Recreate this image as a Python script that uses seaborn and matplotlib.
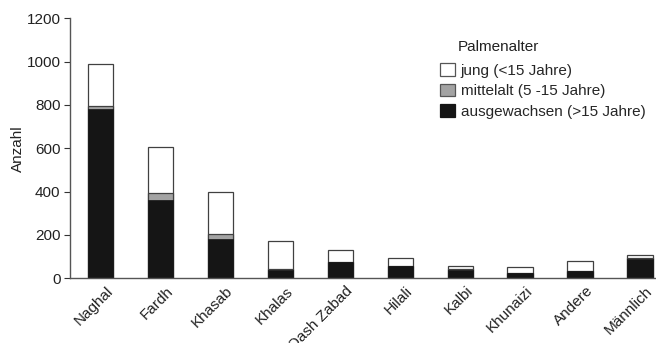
import matplotlib
matplotlib.use("Agg")
import matplotlib.pyplot as plt
import seaborn as sns
import pandas as pd
import numpy as np
from matplotlib.patches import Patch
from matplotlib.transforms import ScaledTranslation

categories = ["Naghal", "Fardh", "Khasab", "Khalas", "Qash Zabad", "Hilali",
              "Kalbi", "Khunaizi", "Andere", "Männlich"]
adult = [780, 360, 180, 38, 77, 55, 40, 25, 33, 90]
middle = [15, 35, 25, 4, 0, 2, 2, 0, 0, 2]
young = [195, 211, 195, 130, 54, 35, 17, 25, 45, 15]
legend_labels = ["jung (<15 Jahre)", "mittelalt (5 -15 Jahre)", "ausgewachsen (>15 Jahre)"]
yticks = [0, 200, 400, 600, 800, 1000, 1200]

sns.set_style("white")
plt.rcParams["font.family"] = ["Liberation Sans", "DejaVu Sans"]

df = pd.DataFrame({"cat": categories, "adult": adult, "middle": middle, "young": young})
df["mid_top"] = df["adult"] + df["middle"]
df["total"] = df["mid_top"] + df["young"]

fig = plt.figure(figsize=(6.56, 3.43), dpi=100)
ax = fig.add_axes([70.3 / 656, 1 - 278.3 / 343, (670 - 70.3) / 656, (278.3 - 18.3) / 343])

W = 0.42
edge = "#404040"
FS = 11
sns.barplot(data=df, x="cat", y="total", color="white", edgecolor=edge, linewidth=0.9,
            width=W, ax=ax, saturation=1)
sns.barplot(data=df, x="cat", y="mid_top", color="#a3a3a3", edgecolor=edge, linewidth=0.9,
            width=W, ax=ax, saturation=1)
sns.barplot(data=df, x="cat", y="adult", color="#151515", edgecolor="#151515", linewidth=0.5,
            width=W, ax=ax, saturation=1)

ax.set_xlim(-0.5, 9.5)
ax.set_ylim(0, 1200)
ax.set_yticks(yticks)
ax.set_yticklabels([str(t) for t in yticks], fontsize=FS, color="#222")
ax.set_xlabel("")
ax.set_ylabel("Anzahl", fontsize=FS, color="#222", labelpad=1)
ax.set_xticks(range(len(categories)))
ax.set_xticklabels(categories, rotation=45, ha="right", va="top", rotation_mode="anchor",
                   fontsize=FS, color="#222")
ax.tick_params(axis="x", length=0, pad=4)
ax.tick_params(axis="y", length=4, width=0.8, color="#333", direction="out", left=True, pad=3)
off = ScaledTranslation(4 / 72, 0, fig.dpi_scale_trans)
for lbl in ax.get_xticklabels():
    lbl.set_transform(lbl.get_transform() + off)
for s in ["top", "right"]:
    ax.spines[s].set_visible(False)
for s in ["left", "bottom"]:
    ax.spines[s].set_color("#555")
    ax.spines[s].set_linewidth(1.0)
ax.patch.set_alpha(0)

handles = [Patch(facecolor="white", edgecolor="#555", linewidth=0.9),
           Patch(facecolor="#a3a3a3", edgecolor="#555", linewidth=0.9),
           Patch(facecolor="#151515", edgecolor="#151515", linewidth=0.9)]
fig.legend(handles, legend_labels, loc="upper left",
           bbox_to_anchor=(440 / 656, 1 - 63.5 / 343), frameon=False, fontsize=FS,
           handlelength=0.95, handleheight=0.85, handletextpad=0.4, labelspacing=0.4,
           borderpad=0, borderaxespad=0)
fig.text(458 / 656, 1 - 47 / 343, "Palmenalter", fontsize=FS, color="#222", va="center", ha="left")

fig.savefig("out.png", dpi=100)
